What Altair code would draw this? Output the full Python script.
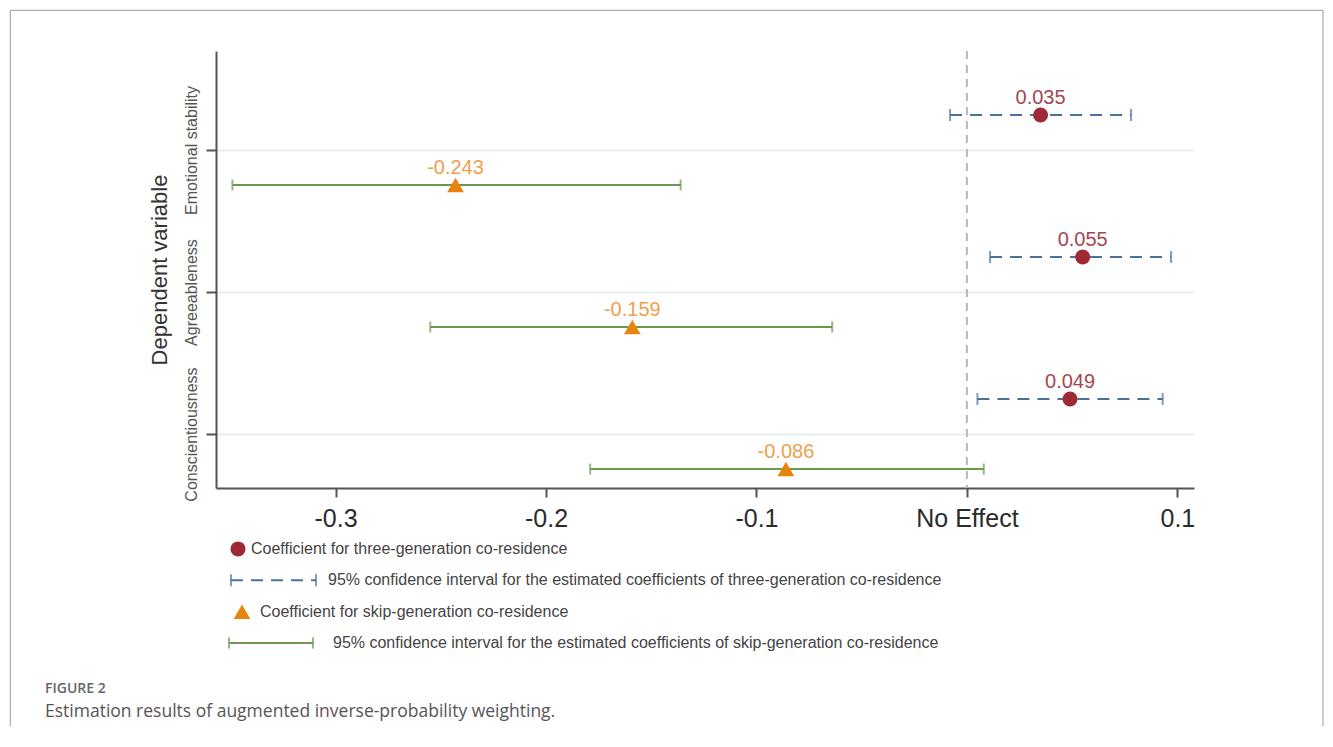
import altair as alt
import pandas as pd

# ---------------- data ----------------
categories = ["Emotional stability", "Agreeableness", "Conscientiousness"]
three_coef = [0.035, 0.055, 0.049]
three_lo = [-0.008, 0.011, 0.005]
three_hi = [0.078, 0.097, 0.093]
skip_coef = [-0.243, -0.159, -0.086]
skip_lo = [-0.349, -0.255, -0.179]
skip_hi = [-0.136, -0.064, 0.008]

x_ticks = [-0.3, -0.2, -0.1, 0.0, 0.1]
x_tick_labels = ["-0.3", "-0.2", "-0.1", "No Effect", "0.1"]
y_title = "Dependent variable"

legend_labels = [
    "Coefficient for three-generation co-residence",
    "95% confidence interval for the estimated coefficients of three-generation co-residence",
    "Coefficient for skip-generation co-residence",
    "95% confidence interval for the estimated coefficients of skip-generation co-residence",
]
caption_title = "FIGURE 2"
caption_text = "Estimation results of augmented inverse-probability weighting."

# ---------------- table for the library ----------------
n = len(categories)
OFF = 0.2465
rows = []
for i, c in enumerate(categories):
    base = n - i
    rows.append(dict(cat=c, group="three", pos=base + OFF, coef=three_coef[i],
                     lo=three_lo[i], hi=three_hi[i], label=f"{three_coef[i]:.3f}"))
    rows.append(dict(cat=c, group="skip", pos=base - OFF, coef=skip_coef[i],
                     lo=skip_lo[i], hi=skip_hi[i], label=f"{skip_coef[i]:.3f}"))
df = pd.DataFrame(rows)
three_df = df[df.group == "three"]
skip_df = df[df.group == "skip"]

FONT = "Liberation Sans"
AX = "#555555"
NOVIEW = alt.ViewBackground(stroke="transparent", strokeWidth=0)

x_expr = " : ".join(
    f"abs(datum.value - ({v})) < 0.0001 ? '{l}'" for v, l in zip(x_ticks, x_tick_labels)
) + " : ''"
y_expr = " : ".join(
    f"datum.value == {n - i} ? '{c}'" for i, c in enumerate(categories)
) + " : ''"

x_scale = alt.Scale(domain=[-0.3568, 0.1079], nice=False, zero=False)
y_scale = alt.Scale(domain=[0.62, 3.697], nice=False, zero=False)

x_axis = alt.Axis(values=x_ticks, labelExpr=x_expr, title="", grid=False,
                  labelFontSize=25, labelColor="#2b2b2b", labelFont=FONT,
                  tickSize=9, tickWidth=2, tickColor=AX, domainColor=AX,
                  domainWidth=2, labelPadding=9, labelFlush=False)
y_axis = alt.Axis(values=[1, 2, 3], labelExpr=y_expr, title=y_title,
                  labelAngle=270, labelAlign="center", labelBaseline="bottom",
                  labelFontSize=16, labelColor="#555555", labelFont=FONT,
                  tickSize=10, tickWidth=2, tickColor=AX, domainColor=AX,
                  domainWidth=2, labelPadding=7, grid=True,
                  gridColor="#e1eaea", gridWidth=1.5,
                  titleFontSize=22, titleFontWeight="normal", titleColor="#333333",
                  titleFont=FONT, titlePadding=12)


def X(field):
    return alt.X(f"{field}:Q", scale=x_scale, axis=x_axis)


Y = alt.Y("pos:Q", scale=y_scale, axis=y_axis)

zero_line = alt.Chart(pd.DataFrame({"z": [0.0]})).mark_rule(
    color="#b8b8b8", strokeWidth=2, strokeDash=[8, 6]
).encode(x=X("z"))

three_ci = alt.Chart(three_df).mark_rule(
    color="#4b719b", strokeWidth=2, strokeDash=[12, 8]
).encode(x=X("lo"), x2="hi:Q", y=Y)
three_cap_lo = alt.Chart(three_df).mark_tick(
    color="#4b719b", thickness=2, size=12, orient="vertical"
).encode(x=X("lo"), y=Y)
three_cap_hi = alt.Chart(three_df).mark_tick(
    color="#4b719b", thickness=2, size=12, orient="vertical"
).encode(x=X("hi"), y=Y)

skip_ci = alt.Chart(skip_df).mark_rule(
    color="#6a9a4f", strokeWidth=2
).encode(x=X("lo"), x2="hi:Q", y=Y)
skip_cap_lo = alt.Chart(skip_df).mark_tick(
    color="#6a9a4f", thickness=2, size=11, orient="vertical"
).encode(x=X("lo"), y=Y)
skip_cap_hi = alt.Chart(skip_df).mark_tick(
    color="#6a9a4f", thickness=2, size=11, orient="vertical"
).encode(x=X("hi"), y=Y)

three_pts = alt.Chart(three_df).mark_point(
    shape="circle", filled=True, size=225, color="#9e2a35", opacity=1
).encode(x=X("coef"), y=Y)
skip_pts = alt.Chart(skip_df).mark_point(
    shape="triangle-up", filled=True, size=280, color="#e6850e", opacity=1
).encode(x=X("coef"), y=Y)

three_lab = alt.Chart(three_df).mark_text(
    dy=-11, baseline="alphabetic", align="center", fontSize=20, font=FONT,
    color="#a5464f"
).encode(x=X("coef"), y=Y, text="label:N")
skip_lab = alt.Chart(skip_df).mark_text(
    dy=-11, baseline="alphabetic", align="center", fontSize=20, font=FONT,
    color="#ef9f4c"
).encode(x=X("coef"), y=Y, text="label:N")

main = alt.layer(
    zero_line, three_ci, three_cap_lo, three_cap_hi,
    skip_ci, skip_cap_lo, skip_cap_hi,
    three_pts, skip_pts, three_lab, skip_lab
).properties(width=978, height=437, view=NOVIEW)

# ---------------- legend + caption panel ----------------
leg_df = pd.DataFrame({"row": list(range(len(legend_labels))), "label": legend_labels})
LY = alt.Y("row:Q", scale=alt.Scale(domain=[-0.41, 3.41], reverse=True, nice=False, zero=False),
           axis=None)
BLUE, GREEN = "#4b719b", "#6a9a4f"


def leg(row):
    return alt.Chart(leg_df).transform_filter(alt.datum.row == row)


def leg_text(row, xpos):
    return leg(row).mark_text(align="left", baseline="middle", fontSize=16, font=FONT,
                              color="#444444").encode(x=alt.value(xpos), y=LY, text="label:N")


leg_layers = [
    leg(0).mark_point(shape="circle", filled=True, size=225, color="#9e2a35", opacity=1)
    .encode(x=alt.value(22), y=LY),
    leg_text(0, 35),
    leg(1).mark_rule(color=BLUE, strokeWidth=2, strokeDash=[12, 8])
    .encode(x=alt.value(15), x2=alt.value(100), y=LY),
    leg(1).mark_tick(color=BLUE, thickness=2, size=12, orient="vertical")
    .encode(x=alt.value(15), y=LY),
    leg(1).mark_tick(color=BLUE, thickness=2, size=12, orient="vertical")
    .encode(x=alt.value(100), y=LY),
    leg_text(1, 112),
    leg(2).mark_point(shape="triangle-up", filled=True, size=280, color="#e6850e", opacity=1)
    .encode(x=alt.value(26), y=LY),
    leg_text(2, 44),
    leg(3).mark_rule(color=GREEN, strokeWidth=2)
    .encode(x=alt.value(13), x2=alt.value(97), y=LY),
    leg(3).mark_tick(color=GREEN, thickness=2, size=11, orient="vertical")
    .encode(x=alt.value(13), y=LY),
    leg(3).mark_tick(color=GREEN, thickness=2, size=11, orient="vertical")
    .encode(x=alt.value(97), y=LY),
    leg_text(3, 117),
]

one = pd.DataFrame({"k": [0]})
frame_left = alt.Chart(one).mark_rule(color="#9a9a9a", strokeWidth=1).encode(
    x=alt.value(-205.7), y=alt.value(-525.7), y2=alt.value(190))
frame_right = alt.Chart(one).mark_rule(color="#9a9a9a", strokeWidth=1).encode(
    x=alt.value(1107), y=alt.value(-525.7), y2=alt.value(190))
frame_top = alt.Chart(one).mark_rule(color="#9a9a9a", strokeWidth=1).encode(
    x=alt.value(-205.7), x2=alt.value(1107), y=alt.value(-525.7))

cap1 = alt.Chart(pd.DataFrame({"t": [caption_title]})).mark_text(
    align="left", baseline="middle", font="Open Sans", fontSize=14, fontWeight=600,
    color="#666666").encode(x=alt.value(-171), y=alt.value(153), text="t:N")
cap2 = alt.Chart(pd.DataFrame({"t": [caption_text]})).mark_text(
    align="left", baseline="middle", font="Open Sans", fontSize=17.5,
    color="#555555").encode(x=alt.value(-171), y=alt.value(176), text="t:N")

legend = alt.layer(*leg_layers, frame_left, frame_right, frame_top, cap1, cap2).properties(
    width=978, height=120, view=NOVIEW)

chart = alt.vconcat(main, legend, spacing=48, bounds="flush").properties(
    padding=1
).configure_view(stroke="transparent", strokeWidth=0).configure(font=FONT)

chart.save("out.html", embed_options={"renderer": "svg", "actions": False})
